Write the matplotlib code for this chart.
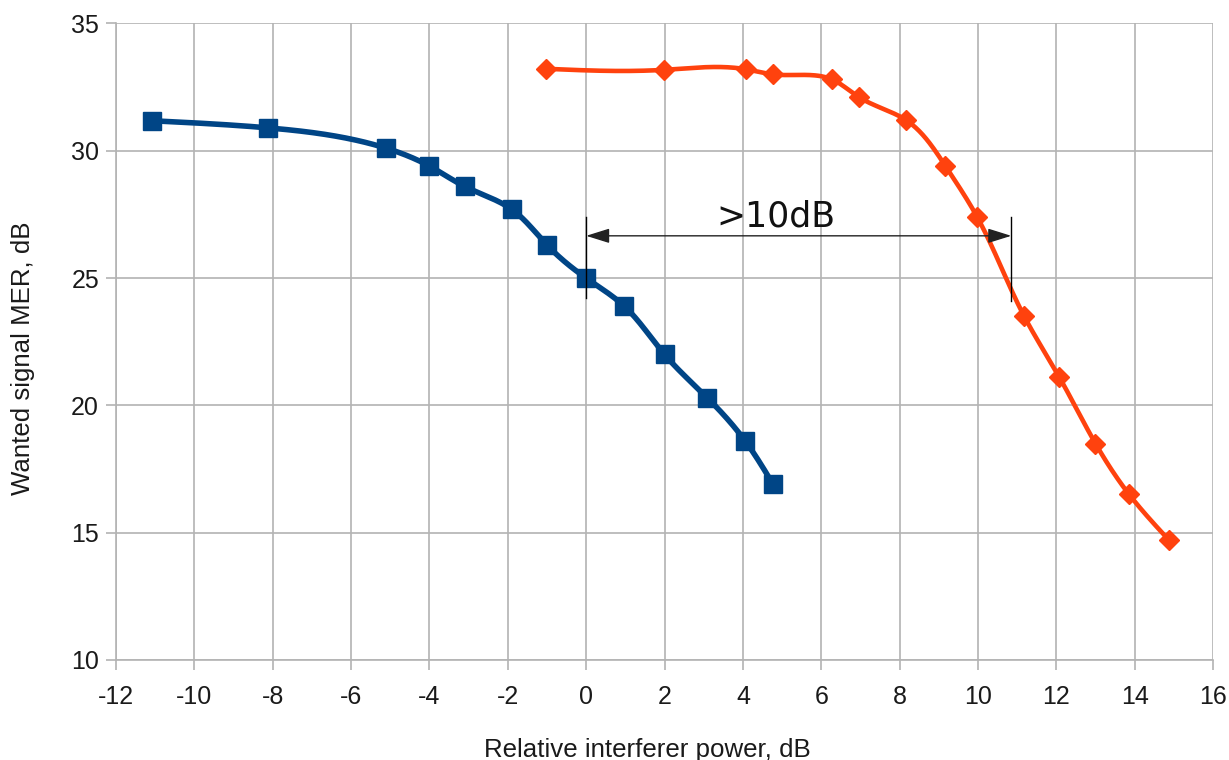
import numpy as np
import matplotlib
matplotlib.use("Agg")
import matplotlib.pyplot as plt

plt.rcParams['font.family'] = ['Liberation Sans', 'DejaVu Sans']

# blue series (squares)
blue_x = [-11.08, -8.12, -5.1, -4.0, -3.1, -1.9, -1.0, 0.0, 0.97, 2.0, 3.09, 4.06, 4.77]
blue_y = [31.18, 30.9, 30.1, 29.4, 28.6, 27.7, 26.3, 25.0, 23.9, 22.0, 20.3, 18.6, 16.9]

# red series (diamonds)
red_x = [-1.02, 1.99, 4.08, 4.77, 6.28, 6.97, 8.17, 9.17, 9.98, 11.18, 12.08, 13.0, 13.86, 14.88]
red_y = [33.22, 33.18, 33.2, 33.0, 32.8, 32.1, 31.2, 29.4, 27.4, 23.5, 21.1, 18.5, 16.5, 14.7]

x_ticks = list(range(-12, 17, 2))
y_ticks = [10, 15, 20, 25, 30, 35]


def natural_spline_1d(t, y, ts):
    t = np.asarray(t, float)
    y = np.asarray(y, float)
    k = len(t)
    h = np.diff(t)
    A = np.zeros((k, k))
    b = np.zeros(k)
    A[0, 0] = A[-1, -1] = 1
    for i in range(1, k - 1):
        A[i, i - 1] = h[i - 1]
        A[i, i] = 2 * (h[i - 1] + h[i])
        A[i, i + 1] = h[i]
        b[i] = 3 * ((y[i + 1] - y[i]) / h[i] - (y[i] - y[i - 1]) / h[i - 1])
    c = np.linalg.solve(A, b)
    idx = np.clip(np.searchsorted(t, ts) - 1, 0, k - 2)
    dt = ts - t[idx]
    hi = h[idx]
    bb = (y[idx + 1] - y[idx]) / hi - hi * (2 * c[idx] + c[idx + 1]) / 3
    d = (c[idx + 1] - c[idx]) / (3 * hi)
    return y[idx] + bb * dt + c[idx] * dt ** 2 + d * dt ** 3


def smooth_curve(x, y, n=500):
    """Parametric cubic spline, chord length measured in screen-like units."""
    x = np.asarray(x, float)
    y = np.asarray(y, float)
    seg = np.hypot(np.diff(x) * 39.2, np.diff(y) * 25.5)
    t = np.concatenate([[0], np.cumsum(seg)])
    ts = np.linspace(0, t[-1], n)
    return natural_spline_1d(t, x, ts), natural_spline_1d(t, y, ts)


fig = plt.figure(figsize=(12.29, 7.6), dpi=100)
ax = fig.add_axes([0.0944, 0.1316, 0.8926, 0.8375])

bx, by = smooth_curve(blue_x, blue_y)
rx, ry = smooth_curve(red_x, red_y)
ax.plot(bx, by, color='#004586', lw=4.0, solid_capstyle='round', zorder=3)
ax.plot(blue_x, blue_y, 's', color='#004586', ms=13, zorder=4)
ax.plot(rx, ry, color='#ff420e', lw=3.3, solid_capstyle='round', zorder=3)
ax.plot(red_x, red_y, 'D', color='#ff420e', ms=10, zorder=4)

# >10dB annotation
ax.plot([0, 0], [24.2, 27.4], color='black', lw=1.0, zorder=5)
ax.plot([10.85, 10.85], [24.1, 27.4], color='black', lw=1.0, zorder=5)
ax.annotate('', xy=(0, 26.66), xytext=(10.85, 26.66),
            arrowprops=dict(arrowstyle='<|-|>,head_length=0.8,head_width=0.25',
                            color='#222222', lw=1.0,
                            mutation_scale=18, shrinkA=0, shrinkB=0), zorder=5)
ax.text(4.85, 27.02, '>10dB', ha='center', va='baseline', fontsize=25,
        family=['DejaVu Sans'], color='#111111')

ax.set_xlim(-12, 16)
ax.set_ylim(10, 35)
ax.set_xticks(x_ticks)
ax.set_yticks(y_ticks)
ax.set_xticklabels([str(t) for t in x_ticks])
ax.grid(True, color='#b3b3b3', lw=1.2)
ax.set_axisbelow(True)
for s in ax.spines.values():
    s.set_visible(False)
for side in ['bottom', 'left']:
    ax.spines[side].set_visible(True)
    ax.spines[side].set_color('#b3b3b3')
    ax.spines[side].set_linewidth(1.2)
ax.tick_params(axis='both', length=7.2, color='#b3b3b3', width=1.2, labelsize=18,
               labelcolor='#1a1a1a')
ax.tick_params(axis='x', pad=11)
ax.tick_params(axis='y', pad=5)

ax.set_xlabel('Relative interferer power, dB', fontsize=18.6, color='#1a1a1a')
ax.xaxis.label.set_va('baseline')
ax.xaxis.set_label_coords(0.484, -0.152)
ax.set_ylabel('Wanted signal MER, dB', fontsize=18.6, color='#1a1a1a')
ax.yaxis.label.set_va('center')
ax.yaxis.set_label_coords(-0.0848, 0.474)

fig.savefig('out.png', dpi=100)
